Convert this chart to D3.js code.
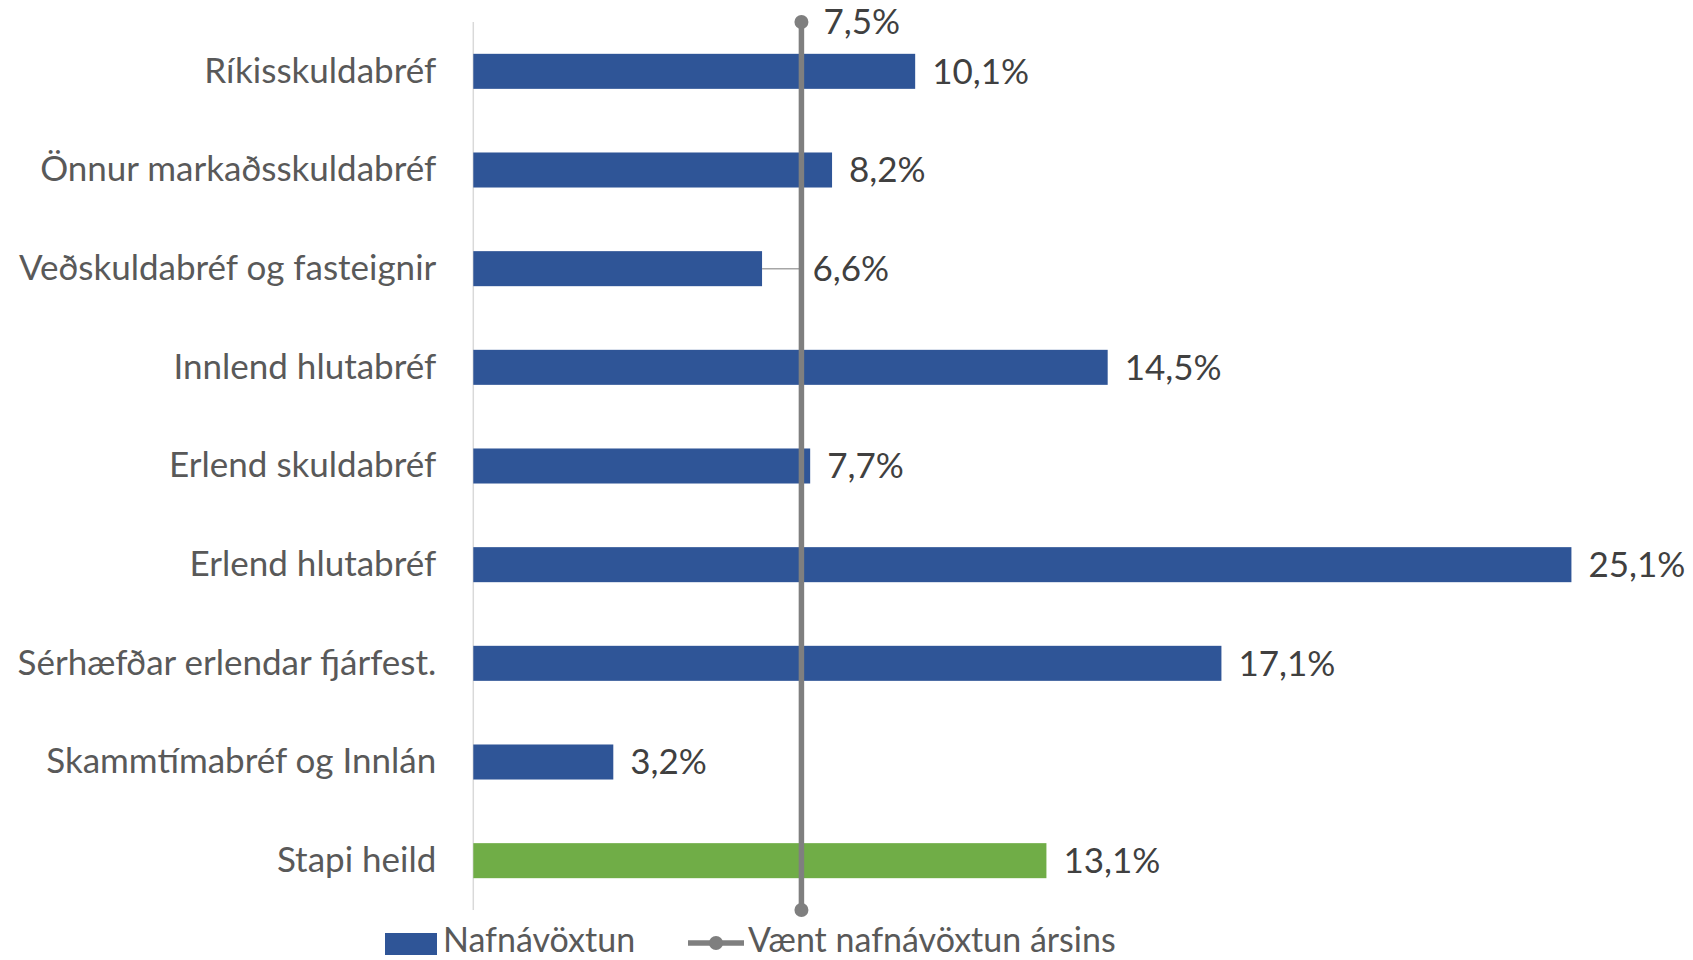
<!DOCTYPE html>
<html>
<head>
<meta charset="utf-8">
<script src="https://cdn.jsdelivr.net/npm/d3@7"></script>
<style>
  html, body { margin: 0; padding: 0; background: #ffffff; }
  svg { display: block; }
  text { font-family: Lato, "Open Sans", sans-serif; }
</style>
</head>
<body>
<svg id="chart" width="1693" height="960"></svg>
<script>
// ---- Data ----
const categories = [
  "Ríkisskuldabréf",
  "Önnur markaðsskuldabréf",
  "Veðskuldabréf og fasteignir",
  "Innlend hlutabréf",
  "Erlend skuldabréf",
  "Erlend hlutabréf",
  "Sérhæfðar erlendar fjárfest.",
  "Skammtímabréf og Innlán",
  "Stapi heild"
];
const nafnavoxtun = [10.1, 8.2, 6.6, 14.5, 7.7, 25.1, 17.1, 3.2, 13.1];
const expectedReturn = 7.5;
const seriesNames = ["Nafnávöxtun", "Vænt nafnávöxtun ársins"];
const totalCategory = "Stapi heild";

// ---- Layout ----
const W = 1693, H = 960;
const plotLeft = 473.3, plotTop = 22, plotBottom = 910;
const pxPerUnit = 43.75;
const xMax = 26;
const fontSize = 35;

const svg = d3.select("#chart");

const x = d3.scaleLinear().domain([0, xMax]).range([plotLeft, plotLeft + xMax * pxPerUnit]);
const y = d3.scaleBand().domain(categories).range([plotTop, plotBottom])
  .paddingInner(0.645).paddingOuter(0.3225);

const fmt = v => d3.format(".1f")(v).replace(".", ",") + "%";

const blue = "#2F5597", green = "#70AD47", gray = "#7F7F7F";

// Category axis line
svg.append("line")
  .attr("x1", x(0)).attr("x2", x(0))
  .attr("y1", plotTop).attr("y2", plotBottom)
  .attr("stroke", "#D9D9D9").attr("stroke-width", 1.5);

// Category axis labels
const yAxis = d3.axisLeft(y).tickSize(0).tickPadding(37);
const gy = svg.append("g").attr("transform", `translate(${x(0)},0)`).call(yAxis);
gy.select(".domain").remove();
gy.selectAll("text")
  .attr("font-family", "Lato, 'Open Sans', sans-serif")
  .attr("font-size", fontSize)
  .attr("fill", "#595959");

// Bars
svg.append("g").selectAll("rect")
  .data(categories.map((c, i) => ({ c, v: nafnavoxtun[i] })))
  .join("rect")
  .attr("x", x(0))
  .attr("y", d => y(d.c))
  .attr("width", d => x(d.v) - x(0))
  .attr("height", y.bandwidth())
  .attr("fill", d => d.c === totalCategory ? green : blue);

// Leader lines for labels that were moved past the expected-return line
const lineX = x(expectedReturn);
const labelData = categories.map((c, i) => {
  const v = nafnavoxtun[i];
  const barEnd = x(v);
  let lx = barEnd + 17;
  let leader = false;
  if (barEnd < lineX && barEnd > lineX - 60) {
    lx = lineX + 11;
    leader = true;
  }
  return { c, v, lx, leader, barEnd };
});

svg.append("g").selectAll("line")
  .data(labelData.filter(d => d.leader))
  .join("line")
  .attr("x1", d => d.barEnd).attr("x2", lineX)
  .attr("y1", d => y(d.c) + y.bandwidth() / 2)
  .attr("y2", d => y(d.c) + y.bandwidth() / 2)
  .attr("stroke", "#A6A6A6").attr("stroke-width", 1.5);

// Expected return line (vertical)
const linePts = [[expectedReturn, plotTop], [expectedReturn, plotBottom]];
svg.append("path")
  .datum(linePts)
  .attr("d", d3.line().x(d => x(d[0])).y(d => d[1]))
  .attr("stroke", gray).attr("stroke-width", 5.5).attr("fill", "none");
svg.append("g").selectAll("circle")
  .data(linePts)
  .join("circle")
  .attr("cx", d => x(d[0])).attr("cy", d => d[1]).attr("r", 7)
  .attr("fill", gray);

// Bar value labels
svg.append("g").selectAll("text")
  .data(labelData)
  .join("text")
  .attr("x", d => d.lx)
  .attr("y", d => y(d.c) + y.bandwidth() / 2)
  .attr("dy", "0.35em")
  .attr("font-size", fontSize)
  .attr("fill", "#404040")
  .text(d => fmt(d.v));

// Expected line label
svg.append("text")
  .attr("x", x(expectedReturn) + 22)
  .attr("y", plotTop)
  .attr("dy", "0.35em")
  .attr("font-size", fontSize)
  .attr("fill", "#404040")
  .text(fmt(expectedReturn));

// Legend
const legY = 943;
const legBaseline = 952;
const leg = svg.append("g");
leg.append("rect").attr("x", 385).attr("y", legY - 10).attr("width", 52).attr("height", 22).attr("fill", blue);
leg.append("text").attr("x", 443).attr("y", legBaseline)
  .attr("font-size", fontSize - 1).attr("fill", "#595959").text(seriesNames[0]);
leg.append("line").attr("x1", 688).attr("x2", 744).attr("y1", legY).attr("y2", legY)
  .attr("stroke", gray).attr("stroke-width", 5.5);
leg.append("circle").attr("cx", 716).attr("cy", legY).attr("r", 7).attr("fill", gray);
leg.append("text").attr("x", 748).attr("y", legBaseline)
  .attr("font-size", fontSize - 1).attr("fill", "#595959").text(seriesNames[1]);
</script>
</body>
</html>
